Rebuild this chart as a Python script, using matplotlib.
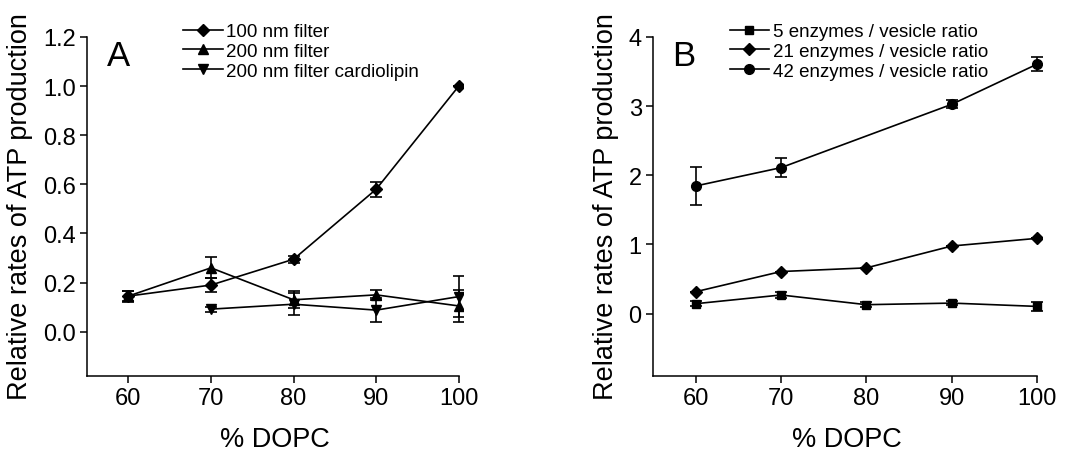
import matplotlib
matplotlib.use('Agg')
import matplotlib.pyplot as plt
import numpy as np

plt.rcParams['font.family'] = ['Liberation Sans', 'DejaVu Sans']

# panel A data
dopc = [60, 70, 80, 90, 100]
filt100 = [0.145, 0.19, 0.295, 0.58, 1.0]
filt100_err = [0.02, 0.028, 0.015, 0.03, 0.0]
filt200 = [0.145, 0.26, 0.13, 0.15, 0.105]
filt200_err = [0.022, 0.043, 0.035, 0.02, 0.065]
dopc_cl = [70, 80, 90, 100]
filt200_cl = [0.092, 0.112, 0.088, 0.143]
filt200_cl_err = [0.01, 0.044, 0.05, 0.085]

# panel B data
ratio5 = [0.144, 0.27, 0.13, 0.153, 0.105]
ratio5_err = [0.04, 0.04, 0.04, 0.03, 0.06]
ratio21 = [0.317, 0.609, 0.662, 0.978, 1.089]
ratio21_err = [0.0, 0.0, 0.0, 0.0, 0.0]
dopc42 = [60, 70, 90, 100]
ratio42 = [1.845, 2.11, 3.026, 3.607]
ratio42_err = [0.28, 0.14, 0.06, 0.095]

fig = plt.figure(figsize=(10.65, 4.52), dpi=100)
axA = fig.add_axes([0.0817, 0.166, 0.353, 0.754])
axB = fig.add_axes([0.613, 0.166, 0.365, 0.754])

lw = 1.2
style = dict(color='black', lw=lw, capsize=4, elinewidth=lw, capthick=lw, markersize=7)
nomk = {k: v for k, v in style.items() if k != 'markersize'}


def setup(ax, ylim, yticks, yfmt):
    for s in ['top', 'right']:
        ax.spines[s].set_visible(False)
    for s in ['left', 'bottom']:
        ax.spines[s].set_linewidth(1.1)
    ax.spines['left'].set_bounds(ylim[0], yticks[-1])
    ax.spines['bottom'].set_bounds(55, 100)
    ax.set_xlim(55, 100.5)
    ax.set_ylim(ylim[0], yticks[-1] + (yticks[-1] - ylim[0]) * 0.005)
    ax.set_xticks(dopc)
    ax.set_yticks(yticks)
    ax.set_yticklabels([yfmt.format(v) for v in yticks])
    ax.tick_params(direction='out', length=5, width=1.1, labelsize=17, pad=3)
    ax.set_xlabel('% DOPC', fontsize=19.5, labelpad=12)
    ax.set_ylabel('Relative rates of ATP production', fontsize=19.5, labelpad=7)


def legend(ax, x):
    h, l = ax.get_legend_handles_labels()
    ax.legend([hh[0] for hh in h], l, loc='upper left', bbox_to_anchor=(x, 0.947), bbox_transform=fig.transFigure,
              frameon=False, fontsize=13.5, handlelength=2.1, handletextpad=0.2, labelspacing=0.15,
              borderaxespad=0, borderpad=0)


axA.errorbar(dopc, filt100, yerr=filt100_err, marker='D', markersize=6.5, label='100 nm filter', **nomk)
axA.errorbar(dopc, filt200, yerr=filt200_err, marker='^', label='200 nm filter', **style)
axA.errorbar(dopc_cl, filt200_cl, yerr=filt200_cl_err, marker='v', label='200 nm filter cardiolipin', **style)
setup(axA, (-0.18, 1.2), [0.0, 0.2, 0.4, 0.6, 0.8, 1.0, 1.2], '{:.1f}')
axA.text(0.052, 0.94, 'A', transform=axA.transAxes, fontsize=25, va='center', ha='left')
legend(axA, 0.172)

axB.errorbar(dopc, ratio5, yerr=ratio5_err, marker='s', markersize=6, label='5 enzymes / vesicle ratio', **nomk)
axB.errorbar(dopc, ratio21, yerr=ratio21_err, marker='D', markersize=6.5, label='21 enzymes / vesicle ratio', **nomk)
axB.errorbar(dopc42, ratio42, yerr=ratio42_err, marker='o', label='42 enzymes / vesicle ratio', **style)
setup(axB, (-0.9, 4), [0, 1, 2, 3, 4], '{:d}')
axB.text(0.05, 0.94, 'B', transform=axB.transAxes, fontsize=25, va='center', ha='left')
legend(axB, 0.685)

fig.savefig('out.png', dpi=100)
